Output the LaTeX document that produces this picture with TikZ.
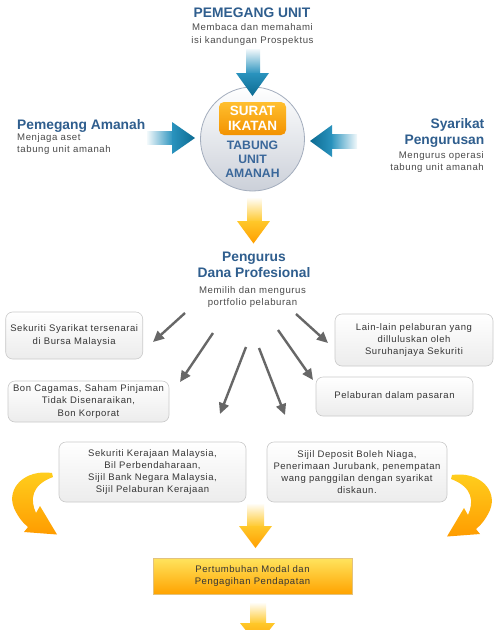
\documentclass[tikz,border=0pt]{standalone}
\usepackage{fontspec}
\setmainfont{Liberation Sans}
\newfontfamily\descfont[LetterSpace=6.0]{Liberation Sans}
\usetikzlibrary{arrows.meta,shapes.geometric,shadings}
\definecolor{tblue}{HTML}{2F5E8E}
\definecolor{cblue}{HTML}{3A679A}
\definecolor{descgray}{HTML}{4A4A4A}
\definecolor{boxtext}{HTML}{363636}
\definecolor{boxline}{HTML}{CACACA}
\definecolor{boxbot}{HTML}{ECECEC}
\definecolor{tealA}{HTML}{2A93BE}
\definecolor{tealB}{HTML}{0C6B92}
\definecolor{oyel}{HTML}{FFC82A}
\definecolor{oorg}{HTML}{FF9E00}
\definecolor{cyel}{HTML}{FFD01E}
\definecolor{corg}{HTML}{FF9C00}
\definecolor{garrowc}{HTML}{676767}
\definecolor{circline}{HTML}{A3ADBD}
\definecolor{circmid}{HTML}{ECEEF2}
\definecolor{circbot}{HTML}{CBD0D9}
\definecolor{siTop}{HTML}{FFBF2E}
\definecolor{siBot}{HTML}{F39200}
\definecolor{pgTop}{HTML}{FFE45E}
\definecolor{pgBot}{HTML}{FFA300}
\definecolor{pgLine}{HTML}{E2C27E}
\begin{document}
\begin{tikzpicture}[x=1pt,y=-1pt,
  title/.style={font=\bfseries\fontsize{13.8}{16}\selectfont, text=tblue, inner sep=0pt},
  desc/.style={font=\descfont\fontsize{9.6}{12.5}\selectfont, text=descgray, inner sep=0pt},
  infobox/.style={draw=boxline, line width=0.6pt, rounded corners=7pt, top color=white, bottom color=boxbot,
    inner sep=0pt, align=center, font=\descfont\fontsize{9.5}{12.2}\selectfont, text=boxtext},
  garrow/.style={draw=garrowc, line width=2.4pt, -{Triangle[length=11pt,width=10pt]}},
  tealshaft/.style={top color=tealA!6, bottom color=tealA},
  orgshaft/.style={top color=white, bottom color=oyel},
  orghead/.style={top color=oyel, bottom color=oorg},
]
\clip (0,0) rectangle (500,630);
\fill[white] (0,0) rectangle (500,630);

% ---------- titles ----------
\node[title, anchor=base] (pu) at (252,17.3) {PEMEGANG UNIT};
\node[desc, align=center] (pud) at (252.5,34.5) {Membaca dan memahami\\isi kandungan Prospektus};

\node[title, anchor=base west] (pa) at (17,129.3) {Pemegang Amanah};
\node[desc, align=left, anchor=west, font=\descfont\fontsize{9.6}{12}\selectfont] (pad) at (17,144) {Menjaga aset\\tabung unit amanah};

\node[title, anchor=base east] (sp1) at (484.5,128) {Syarikat};
\node[title, anchor=base east] (sp2) at (484.5,144) {Pengurusan};
\node[desc, align=right, anchor=east, font=\descfont\fontsize{9.6}{12}\selectfont] (spd) at (484,162.5) {Mengurus operasi\\tabung unit amanah};

% ---------- centre circle ----------
\node[circle, minimum size=104pt, inner sep=0pt, draw=circline, line width=0.8pt,
      top color=white, middle color=circmid, bottom color=circbot] (tua) at (252.5,139) {};
\node[rounded corners=5pt, minimum width=67pt, minimum height=33pt, inner sep=0pt,
      top color=siTop, bottom color=siBot, align=center, text=white,
      font=\bfseries\fontsize{13.5}{14.7}\selectfont] (si) at (252.5,118.5) {SURAT\\IKATAN};
\node[align=center, inner sep=0pt, text=cblue, font=\bfseries\fontsize{12.2}{13.8}\selectfont] (tab) at (252.5,159.5) {TABUNG\\UNIT\\AMANAH};

% ---------- teal arrows ----------
\shade[tealshaft] (246,49) rectangle (260,74);
\shade[top color=tealA, bottom color=tealB] (236,73) -- (269,73) -- (252.5,96) -- cycle;
\shade[left color=tealA!6, right color=tealA] (147,131) rectangle (173,144);
\shade[left color=tealA, right color=tealB] (172,122) -- (172,154) -- (195,138) -- cycle;
\shade[left color=tealA, right color=tealA!6] (331,134) rectangle (357,148);
\shade[left color=tealB, right color=tealA] (332,125) -- (332,157) -- (310,141) -- cycle;

% ---------- orange down arrow 1 ----------
\shade[orgshaft] (247,197) rectangle (261.5,222);
\shade[orghead] (237,221) -- (270,221) -- (253.5,243.5) -- cycle;

% ---------- pengurus ----------
\node[title, anchor=base] (pd1) at (254,261) {Pengurus};
\node[title, anchor=base] (pd2) at (254,277.7) {Dana Profesional};
\node[desc, align=center] (pdd) at (252.5,297) {Memilih dan mengurus\\portfolio pelaburan};

% ---------- boxes ----------
\node[infobox, minimum width=137pt, minimum height=47pt] (b1) at (74.2,335.5) {Sekuriti Syarikat tersenarai\\di Bursa Malaysia};
\node[infobox, minimum width=158pt, minimum height=52pt] (b2) at (414,340) {Lain-lain pelaburan yang\\dilluluskan oleh\\Suruhanjaya Sekuriti};
\node[infobox, minimum width=161pt, minimum height=41pt] (b3) at (88.5,401.5) {Bon Cagamas, Saham Pinjaman\\Tidak Disenaraikan,\\Bon Korporat};
\node[infobox, minimum width=157pt, minimum height=39pt] (b4) at (394.5,396.5) {Pelaburan dalam pasaran};
\node[infobox, minimum width=187pt, minimum height=60pt] (b5) at (152.5,472) {Sekuriti Kerajaan Malaysia,\\Bil Perbendaharaan,\\Sijil Bank Negara Malaysia,\\Sijil Pelaburan Kerajaan};
\node[infobox, minimum width=180pt, minimum height=60pt] (b6) at (357,472) {Sijil Deposit Boleh Niaga,\\Penerimaan Jurubank, penempatan\\wang panggilan dengan syarikat\\diskaun.};

% ---------- grey arrows ----------
\coordinate (s1) at (185,313); \coordinate (e1) at (153,342);
\coordinate (s2) at (213,333); \coordinate (e2) at (180,382);
\coordinate (s3) at (246,347); \coordinate (e3) at (220,414);
\coordinate (s4) at (259,348); \coordinate (e4) at (285,415);
\coordinate (s5) at (278,330); \coordinate (e5) at (313,380);
\coordinate (s6) at (296,314); \coordinate (e6) at (328,343);
\draw[garrow] (s1) -- (e1);
\draw[garrow] (s2) -- (e2);
\draw[garrow] (s3) -- (e3);
\draw[garrow] (s4) -- (e4);
\draw[garrow] (s5) -- (e5);
\draw[garrow] (s6) -- (e6);

% ---------- curved arrows ----------
\shade[top color=cyel, bottom color=corg] (52,473) .. controls (25,469) and (6,488) .. (14,508)
  .. controls (18,517) and (23,523) .. (28,527) -- (24,532) -- (57,534.5) -- (40,506) -- (36,513)
  .. controls (30,500) and (31,485) .. (53,477) -- cycle;
\begin{scope}[shift={(504,2)}, xscale=-1]
\shade[top color=cyel, bottom color=corg] (52,473) .. controls (25,469) and (6,488) .. (14,508)
  .. controls (18,517) and (23,523) .. (28,527) -- (24,532) -- (57,534.5) -- (40,506) -- (36,513)
  .. controls (30,500) and (31,485) .. (53,477) -- cycle;
\end{scope}

% ---------- orange down arrow 2 ----------
\shade[orgshaft] (247,503) rectangle (264,527);
\shade[orghead] (239,526) -- (272,526) -- (255.5,548) -- cycle;

% ---------- result box ----------
\node[draw=pgLine, line width=0.7pt, minimum width=199pt, minimum height=36pt, inner sep=0pt,
      top color=pgTop, bottom color=pgBot, align=center, text=boxtext,
      font=\descfont\fontsize{9.5}{12}\selectfont] (pg) at (252.5,576) {Pertumbuhan Modal dan\\Pengagihan Pendapatan};

% ---------- orange down arrow 3 ----------
\shade[orgshaft] (250,602) rectangle (266,624);
\shade[orghead] (240,623) -- (275,623) -- (257.5,645) -- cycle;
\end{tikzpicture}
\end{document}
